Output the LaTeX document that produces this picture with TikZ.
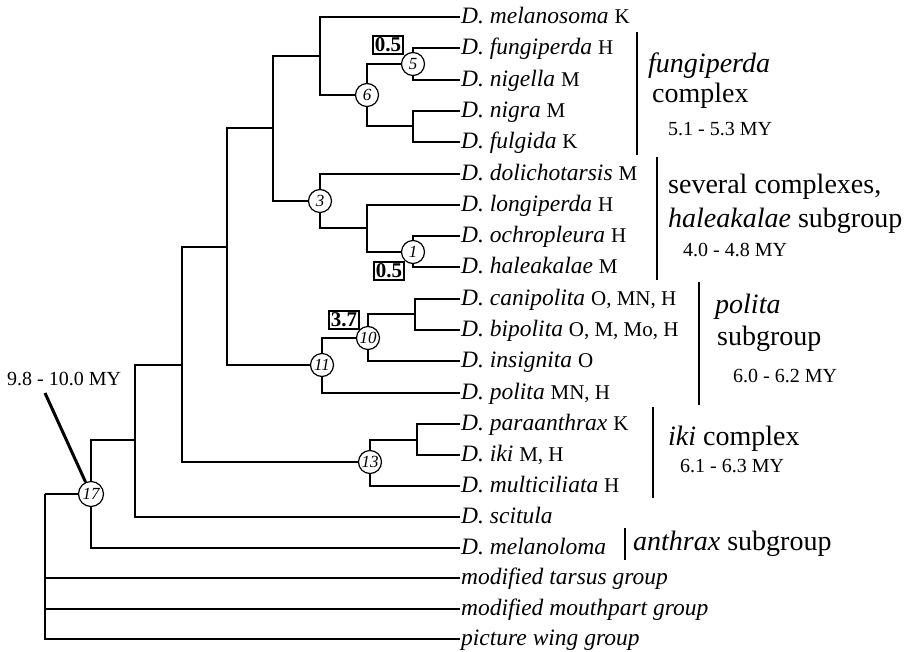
\documentclass[tikz,border=0pt]{standalone}
\usepackage{fontspec}
\setmainfont{Liberation Serif}
\newcommand{\taxon}[2]{\textit{#1}\ {\fontsize{21}{21}\selectfont #2}}

\begin{document}
\begin{tikzpicture}[x=1pt, y=-1pt]
    \tikzset{leaf/.style={anchor=west, inner sep=1pt, font=\fontsize{23.5}{24}\selectfont, text height=15pt, text depth=2pt},
             knot/.style={draw, shape=circle, fill=white, inner sep=0pt, minimum size=23pt, line width=1.2pt, font=\fontsize{17}{17}\selectfont\itshape},
             boxed/.style={draw, inner sep=2pt, line width=1.3pt, font=\fontsize{21}{21}\selectfont\bfseries},
             elbow/.style={to path={|- (\tikztotarget)}},
             bar/.style={line width=1.8pt},
             grp/.style={anchor=base west, inner sep=0pt, font=\fontsize{28}{28}\selectfont},
             age/.style={anchor=base west, inner sep=0pt, font=\fontsize{20}{20}\selectfont}}
    \useasboundingbox (0, 0) rectangle (904, 651);

    % leaves
    \node[leaf] (mel) at (460, 17) {\taxon{D. melanosoma}{K}};
    \node[leaf] (fun) at (460, 48) {\taxon{D. fungiperda}{H}};
    \node[leaf] (nig) at (460, 80) {\taxon{D. nigella}{M}};
    \node[leaf] (ngr) at (460, 111) {\taxon{D. nigra}{M}};
    \node[leaf] (ful) at (460, 142) {\taxon{D. fulgida}{K}};
    \node[leaf] (dol) at (460, 174) {\taxon{D. dolichotarsis}{M}};
    \node[leaf] (lon) at (460, 205) {\taxon{D. longiperda}{H}};
    \node[leaf] (och) at (460, 236) {\taxon{D. ochropleura}{H}};
    \node[leaf] (hal) at (460, 267) {\taxon{D. haleakalae}{M}};
    \node[leaf] (can) at (460, 299) {\taxon{D. canipolita}{O, MN, H}};
    \node[leaf] (bip) at (460, 330) {\taxon{D. bipolita}{O, M, Mo, H}};
    \node[leaf] (ins) at (460, 361) {\taxon{D. insignita}{O}};
    \node[leaf] (pol) at (460, 393) {\taxon{D. polita}{MN, H}};
    \node[leaf] (par) at (460, 424) {\taxon{D. paraanthrax}{K}};
    \node[leaf] (iki) at (460, 455) {\taxon{D. iki}{M, H}};
    \node[leaf] (mul) at (460, 486) {\taxon{D. multiciliata}{H}};
    \node[leaf] (sci) at (460, 517) {\textit{D. scitula}};
    \node[leaf] (mlo) at (460, 548) {\textit{D. melanoloma}};
    \node[leaf] (tar) at (460, 578) {\textit{modified tarsus group}};
    \node[leaf] (mou) at (460, 609) {\textit{modified mouthpart group}};
    \node[leaf] (pic) at (460, 639) {\textit{picture wing group}};

    % inner nodes
    \node[knot] (n5) at (413, 64) {5};
    \node[knot] (n6) at (367, 95) {6};
    \node[knot] (n1) at (413, 252) {1};
    \node[knot] (n3) at (320, 201) {3};
    \node[knot] (n10) at (368, 338) {10};
    \node[knot] (n11) at (322, 365) {11};
    \node[knot] (n13) at (370, 462) {13};
    \node[knot, minimum size=25pt] (n17) at (91, 494) {17};
    \coordinate (c4) at (413, 126);
    \coordinate (c7) at (320, 56);
    \coordinate (c2) at (367, 228);
    \coordinate (c8) at (273, 128);
    \coordinate (c9) at (415, 314);
    \coordinate (c12) at (227, 247);
    \coordinate (c14) at (417, 440);
    \coordinate (c15) at (182, 365);
    \coordinate (c16) at (135, 440);
    \coordinate (root) at (45, 494);

    % branch lengths
    \node[boxed] (b5) at (388, 45) {0.5};
    \node[boxed] (b1) at (389, 271) {0.5};
    \node[boxed] (b10) at (344, 320) {3.7};

    \path[draw, line width=1.4pt]
        (c7) edge [elbow] (mel)
             edge [elbow] (n6)
        (n6) edge [elbow] (n5)
             edge [elbow] (c4)
        (n5) edge [elbow] (fun)
             edge [elbow] (nig)
        (c4) edge [elbow] (ngr)
             edge [elbow] (ful)
        (c8) edge [elbow] (c7)
             edge [elbow] (n3)
        (n3) edge [elbow] (dol)
             edge [elbow] (c2)
        (c2) edge [elbow] (lon)
             edge [elbow] (n1)
        (n1) edge [elbow] (och)
             edge [elbow] (hal)
        (c12) edge [elbow] (c8)
              edge [elbow] (n11)
        (n11) edge [elbow] (n10)
              edge [elbow] (pol)
        (n10) edge [elbow] (c9)
              edge [elbow] (ins)
        (c9) edge [elbow] (can)
             edge [elbow] (bip)
        (c15) edge [elbow] (c12)
              edge [elbow] (n13)
        (n13) edge [elbow] (c14)
              edge [elbow] (mul)
        (c14) edge [elbow] (par)
              edge [elbow] (iki)
        (c16) edge [elbow] (c15)
              edge [elbow] (sci)
        (n17) edge [elbow] (c16)
              edge [elbow] (mlo)
        (root) edge (n17)
               edge [elbow] (tar)
               edge [elbow] (mou)
               edge [elbow] (pic);

    % age of the root
    \node[age] (rootage) at (7, 385) {9.8 - 10.0 MY};
    \coordinate (agetip) at (45, 393);
    \draw[line width=3pt] (agetip) -- (n17);

    % groups
    \draw[bar] (637, 32) -- (637, 155);
    \node[grp] (fgname) at (648, 72) {\textit{fungiperda}};
    \node[grp] (fgcplx) at (652, 102) {complex};
    \node[age] (fgage) at (668, 135) {5.1 - 5.3 MY};

    \draw[bar] (657, 157) -- (657, 280);
    \node[grp] (hasev) at (668, 193) {several complexes,};
    \node[grp] (hasub) at (668, 227) {\textit{haleakalae} subgroup};
    \node[age] (haage) at (683, 256) {4.0 - 4.8 MY};

    \draw[bar] (699, 282) -- (699, 405);
    \node[grp] (poname) at (715, 313) {\textit{polita}};
    \node[grp] (posub) at (717, 345) {subgroup};
    \node[age] (poage) at (733, 382) {6.0 - 6.2 MY};

    \draw[bar] (653, 407) -- (653, 498);
    \node[grp] (ikname) at (668, 445) {\textit{iki} complex};
    \node[age] (ikage) at (680, 472) {6.1 - 6.3 MY};

    \draw[bar] (625, 528) -- (625, 560);
    \node[grp] (anname) at (633, 550) {\textit{anthrax} subgroup};
\end{tikzpicture}
\end{document}
